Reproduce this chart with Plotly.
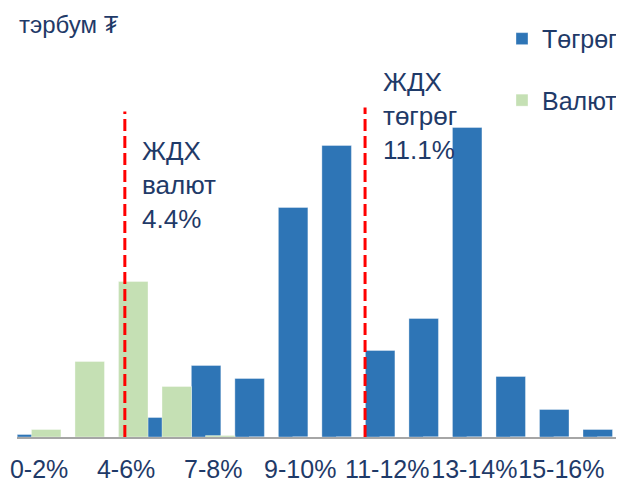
import plotly.graph_objects as go

categories = ["0-2%", "2-4%", "4-6%", "6-7%", "7-8%", "8-9%", "9-10%",
              "10-11%", "11-12%", "12-13%", "13-14%", "14-15%", "15-16%", "16-17%"]
tick_labels = ["0-2%", "4-6%", "7-8%", "9-10%", "11-12%", "13-14%", "15-16%"]
togrog = [2.5, 0, 0, 19.5, 71.5, 58.5, 229.5, 291.5, 86.5, 118.5, 309.5, 60.5, 27.5, 7.5]
valyut = [7.5, 75.5, 155.5, 50.5, 1.5, 0, 0, 0, 0, 0, 0, 0, 0, 0]

# reference (average rate) lines, in category-axis position
valyut_line_pos = 1.97
togrog_line_pos = 7.49

NAVY = "#1F3A68"
FONT = "Arial, Liberation Sans, DejaVu Sans, sans-serif"

fig = go.Figure()
fig.add_trace(go.Bar(
    x=categories, y=togrog, name="Төгрөг", legendgroup="a",
    marker=dict(color="#2E75B6", line=dict(color="rgba(255,255,255,0.35)", width=1)),
    width=0.678, offset=-0.502,
))
fig.add_trace(go.Bar(
    x=categories, y=valyut, name="Валют", legendgroup="b",
    marker=dict(color="#C5E0B4", line=dict(color="rgba(255,255,255,0.35)", width=1)),
    width=0.678, offset=-0.176,
))

for pos, top in [(valyut_line_pos, 325.5), (togrog_line_pos, 329.5)]:
    fig.add_shape(type="line", xref="x", yref="y", x0=pos, x1=pos, y0=0, y1=top,
                  line=dict(color="#FF0000", width=3, dash="12px,5px"), layer="above")

fig.add_annotation(x=2.31, y=303.5, xref="x", yref="y", xanchor="left", yanchor="top",
                   text="ЖДХ<br>валют<br>4.4%", showarrow=False, align="left",
                   font=dict(size=26, color=NAVY, family=FONT))
fig.add_annotation(x=7.85, y=372.5, xref="x", yref="y", xanchor="left", yanchor="top",
                   text="ЖДХ<br>төгрөг<br>11.1%", showarrow=False, align="left",
                   font=dict(size=26, color=NAVY, family=FONT))
fig.add_annotation(x=0.0, y=1.095, xref="paper", yref="paper", xanchor="left", yanchor="middle",
                   text="тэрбум ₮", showarrow=False,
                   font=dict(size=24, color=NAVY, family=FONT))

fig.update_layout(
    width=616, height=475,
    margin=dict(l=9, r=0, t=52, b=46, autoexpand=False),
    paper_bgcolor="white", plot_bgcolor="white",
    barmode="overlay",
    showlegend=True,
    legend=dict(x=0.799, y=1.117, xanchor="left", yanchor="top",
                font=dict(size=25, color=NAVY, family=FONT),
                traceorder="grouped", tracegroupgap=26, bgcolor="rgba(0,0,0,0)"),
    font=dict(family=FONT, color=NAVY),
)

fig.update_xaxes(type="category", categoryorder="array", categoryarray=categories,
                 range=[-0.508, 13.44], tickmode="array", tickvals=tick_labels, ticktext=tick_labels,
                 showline=True, linecolor="#A6A6A6", linewidth=1.5, ticks="", showgrid=False,
                 ticklabelstandoff=9, tickangle=0, automargin=False,
                 tickfont=dict(size=25, color=NAVY, family=FONT), fixedrange=True)
fig.update_yaxes(range=[0, 377], visible=False, showgrid=False, fixedrange=True)

fig.write_html("out.html")
